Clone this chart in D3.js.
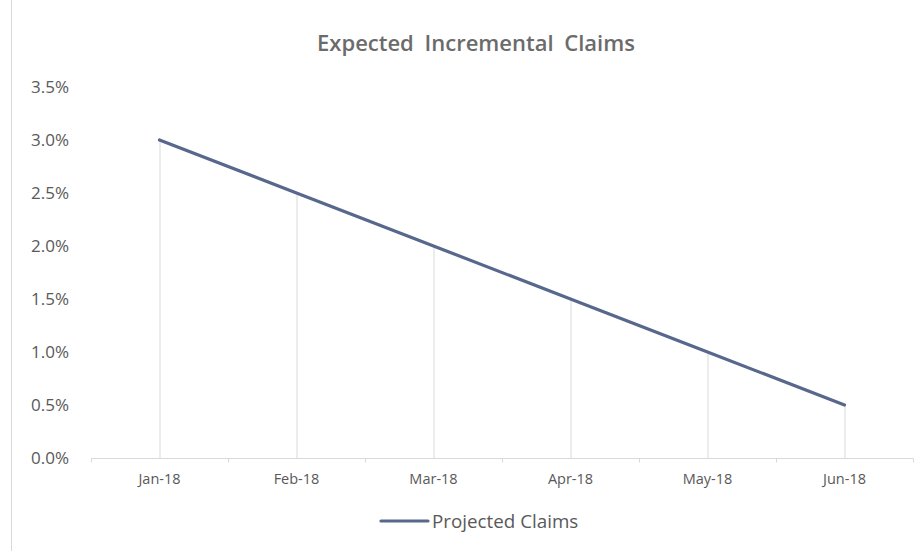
<!DOCTYPE html>
<html><head><meta charset="utf-8">
<script src="https://cdn.jsdelivr.net/npm/d3@7"></script>
<style>body{margin:0;background:#fff}svg{display:block}</style>
</head><body><svg id="c" width="921" height="551"></svg>
<script>
const categories = ["Jan-18","Feb-18","Mar-18","Apr-18","May-18","Jun-18"];
const projectedClaims = [0.030,0.025,0.020,0.015,0.010,0.005];
const yTicks = [0,0.005,0.010,0.015,0.020,0.025,0.030,0.035];
const seriesName = "Projected Claims";
const title = "Expected Incremental Claims";

const svg = d3.select("#c");
const font = "'Open Sans', sans-serif";
const x = d3.scaleBand().domain(categories).range([91,913]);
const y = d3.scaleLinear().domain([0,0.035]).range([458,87]);
const cx = d => x(d) + x.bandwidth()/2;

svg.append("line").attr("x1",11.5).attr("x2",11.5).attr("y1",0).attr("y2",551).attr("stroke","#d9d9d9");

svg.append("text").attr("x",476).attr("y",51).attr("text-anchor","middle")
  .attr("font-family",font).attr("font-size",22).attr("font-weight",600)
  .attr("word-spacing",5).attr("fill","#6b6b6b").text(title);

// y labels
svg.append("g").selectAll("text").data(yTicks).join("text")
  .attr("x",69).attr("y",d=>y(d)).attr("dy","0.36em").attr("text-anchor","end")
  .attr("font-family",font).attr("font-size",17).attr("fill","#595959")
  .text(d=>d3.format(".1%")(d));

// drop lines
svg.append("g").selectAll("line").data(categories).join("line")
  .attr("x1",d=>cx(d)+0.5).attr("x2",d=>cx(d)+0.5)
  .attr("y1",(d,i)=>y(projectedClaims[i])).attr("y2",y(0))
  .attr("stroke","#d9d9d9").attr("stroke-width",1);

// x axis
const xa = svg.append("g").attr("transform",`translate(0,${y(0)+0.5})`);
xa.append("line").attr("x1",91).attr("x2",913).attr("stroke","#d9d9d9");
const bounds = categories.map(c=>x(c)).concat([x.range()[1]]);
xa.selectAll("line.t").data(bounds).join("line").attr("class","t")
  .attr("x1",d=>d+0.5).attr("x2",d=>d+0.5).attr("y1",0).attr("y2",4).attr("stroke","#d9d9d9");
xa.selectAll("text").data(categories).join("text")
  .attr("x",d=>cx(d)).attr("y",25).attr("text-anchor","middle")
  .attr("font-family",font).attr("font-size",14.5).attr("fill","#595959").text(d=>d);

// line
svg.append("path").datum(projectedClaims)
  .attr("d",d3.line().x((d,i)=>cx(categories[i])).y(d=>y(d)))
  .attr("fill","none").attr("stroke","#57688c").attr("stroke-width",3.2).attr("stroke-linecap","round");

// legend
svg.append("line").attr("x1",381).attr("x2",428).attr("y1",521).attr("y2",521)
  .attr("stroke","#57688c").attr("stroke-width",3.2).attr("stroke-linecap","round");
svg.append("text").attr("x",432).attr("y",521).attr("dy","0.36em")
  .attr("font-family",font).attr("font-size",18.8).attr("fill","#595959").text(seriesName);
</script></body></html>
